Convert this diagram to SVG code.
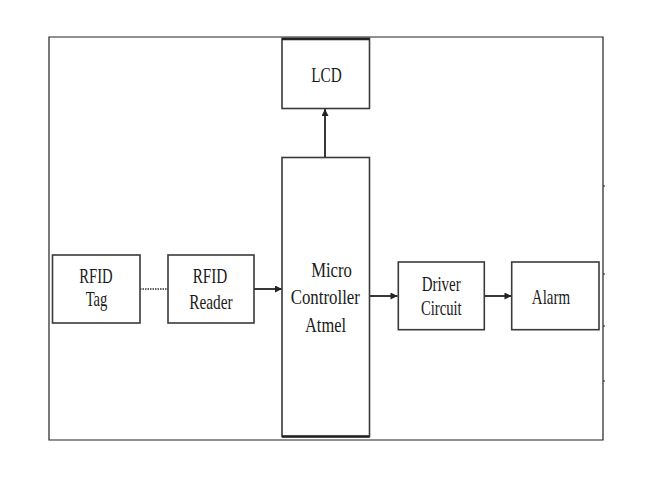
<svg xmlns="http://www.w3.org/2000/svg" width="662" height="486" viewBox="0 0 662 486">
<style>
.box{fill:#fff;stroke:#3a3a3a;stroke-width:1.6}
.t{font-family:'Liberation Serif','DejaVu Serif',serif;font-size:21px;fill:#1a1a1a;text-anchor:middle}
.c{stroke:#222;stroke-width:1.8;fill:none}
.frame{stroke:#222;stroke-width:1.2;fill:none}
</style>
<defs>
<marker id="ah" viewBox="0 0 10 10" refX="10" refY="5" markerWidth="8" markerHeight="7" markerUnits="userSpaceOnUse" orient="auto">
<path d="M0,0 L10,5 L0,10 z" fill="#222"/>
</marker>
</defs>
<rect width="662" height="486" fill="#fff"/>
<g id="frame">
<path class="frame" d="M49,37 H603 V440 H49 Z"/>
<path class="frame" d="M603,186 h2 M603,274 h2 M603,326 h2 M603,381 h2"/>
</g>
<g id="connectors">
<line class="c" x1="325" y1="157" x2="325" y2="109" marker-end="url(#ah)"/>
<line x1="140" y1="289" x2="168" y2="289" stroke="#333" stroke-width="1.4" stroke-dasharray="1.5,1"/>
<line class="c" x1="254" y1="289" x2="282" y2="289" marker-end="url(#ah)"/>
<line class="c" x1="369" y1="296" x2="397.5" y2="296" marker-end="url(#ah)"/>
<line class="c" x1="484.5" y1="296" x2="511.5" y2="296" marker-end="url(#ah)"/>
</g>
<g id="lcd">
<rect class="box" x="282" y="38.5" width="87.5" height="70"/>
<line x1="282" y1="39" x2="369.5" y2="39" stroke="#222" stroke-width="2.5"/>
<text class="t" x="326.5" y="81.5" textLength="30.5" lengthAdjust="spacingAndGlyphs" font-family="Liberation Serif, DejaVu Serif, serif">LCD</text>
</g>
<g id="mc">
<rect class="box" x="282" y="157.5" width="87.5" height="279"/>
<line x1="282" y1="436.5" x2="369.5" y2="436.5" stroke="#222" stroke-width="2.5"/>
<text class="t" x="331.5" y="276.7" textLength="40.7" lengthAdjust="spacingAndGlyphs">Micro</text>
<text class="t" x="325.3" y="304.3" textLength="69.3" lengthAdjust="spacingAndGlyphs">Controller</text>
<text class="t" x="325.5" y="331.7" textLength="41" lengthAdjust="spacingAndGlyphs">Atmel</text>
</g>
<g id="tag">
<rect class="box" x="52.5" y="255" width="87.5" height="68"/>
<text class="t" x="96" y="283" textLength="33.4" lengthAdjust="spacingAndGlyphs">RFID</text>
<text class="t" x="96.5" y="306" textLength="21.7" lengthAdjust="spacingAndGlyphs">Tag</text>
</g>
<g id="reader">
<rect class="box" x="168" y="255" width="86" height="68"/>
<text class="t" x="210" y="283" textLength="34.7" lengthAdjust="spacingAndGlyphs">RFID</text>
<text class="t" x="211" y="308.5" textLength="43.3" lengthAdjust="spacingAndGlyphs">Reader</text>
</g>
<g id="driver">
<rect class="box" x="398.3" y="262" width="86" height="67.7"/>
<text class="t" x="441.2" y="291.3" textLength="39" lengthAdjust="spacingAndGlyphs">Driver</text>
<text class="t" x="441.3" y="315.3" textLength="40.7" lengthAdjust="spacingAndGlyphs">Circuit</text>
</g>
<g id="alarm">
<rect class="box" x="511.7" y="262" width="87.3" height="67.7"/>
<text class="t" x="551" y="304" textLength="38.3" lengthAdjust="spacingAndGlyphs">Alarm</text>
</g>
</svg>
